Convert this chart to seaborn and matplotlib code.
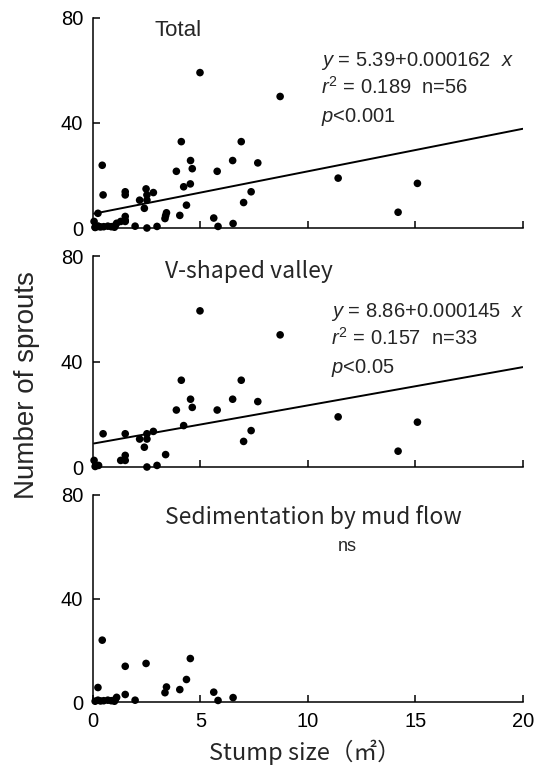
import numpy as np
import pandas as pd
import seaborn as sns
import matplotlib
matplotlib.use("Agg")
import matplotlib.pyplot as plt

# ---------------- data ----------------
# V-shaped valley stumps: stump size (m2) and number of sprouts
valley_x = [4.98, 8.71, 0.47, 1.50, 2.17, 2.51, 2.51, 2.39, 2.81, 3.38, 3.88,
            4.11, 4.22, 4.54, 4.62, 5.78, 6.50, 6.90, 7.01, 7.36, 7.67, 11.41,
            14.20, 15.10, 1.29, 1.50, 1.50, 2.51, 2.98, 0.05, 0.15, 0.26, 0.10]
valley_y = [59.2, 50.1, 12.6, 12.6, 10.6, 12.6, 10.6, 7.5, 13.5, 4.7, 21.6,
            32.9, 15.7, 25.7, 22.6, 21.6, 25.7, 32.9, 9.7, 13.8, 24.8, 19.0,
            6.0, 17.0, 2.5, 2.5, 4.4, 0.0, 0.6, 2.5, 0.6, 0.6, 0.2]
# Sedimentation by mud flow stumps
mud_x = [0.43, 0.23, 0.23, 0.69, 1.04, 1.10, 1.50, 1.50, 1.96, 2.47, 3.35,
         3.42, 4.04, 4.35, 4.53, 5.62, 5.82, 6.52, 0.10, 0.35, 0.50, 0.85, 1.00]
mud_y = [23.9, 5.6, 0.7, 0.7, 1.0, 1.8, 13.8, 2.9, 0.7, 14.9, 3.6,
         5.8, 4.8, 8.7, 16.8, 3.8, 0.6, 1.7, 0.3, 0.4, 0.5, 0.5, 0.3]

panel_titles = ["Total", "V-shaped valley", "Sedimentation by mud flow"]
# regression coefficients (x in cm2 in the equations)
total_coef = (5.39, 0.000162)
valley_coef = (8.86, 0.000145)
total_stats = [r"$\mathit{y}$ = 5.39+0.000162  $\mathit{x}$",
               r"$\mathit{r}^{\mathrm{2}}$ = 0.189  n=56",
               r"$\mathit{p}$<0.001"]
valley_stats = [r"$\mathit{y}$ = 8.86+0.000145  $\mathit{x}$",
                r"$\mathit{r}^{\mathrm{2}}$ = 0.157  n=33",
                r"$\mathit{p}$<0.05"]
mud_stats = "ns"
x_ticks = [0, 5, 10, 15, 20]
y_ticks = [0, 40, 80]
x_label = "Stump size（㎡）"
y_label = "Number of sprouts"

df_v = pd.DataFrame({"x": valley_x, "y": valley_y, "site": "valley"})
df_m = pd.DataFrame({"x": mud_x, "y": mud_y, "site": "mud"})
df_t = pd.concat([df_v, df_m], ignore_index=True)

# ---------------- style ----------------
sns.set_theme(style="ticks")
plt.rcParams["font.family"] = ["Liberation Sans", "DejaVu Sans"]
plt.rcParams["mathtext.fontset"] = "custom"
plt.rcParams["mathtext.it"] = "Liberation Sans:italic"
plt.rcParams["mathtext.rm"] = "Liberation Sans"
plt.rcParams["mathtext.default"] = "regular"
CJK = ["Noto Sans CJK JP", "DejaVu Sans"]

W, H = 545, 773
fig = plt.figure(figsize=(W / 100, H / 100), dpi=100)


def rect(top_px, bot_px):
    return [93 / W, 1 - bot_px / H, (522.7 - 93) / W, (bot_px - top_px) / H]


axes = [fig.add_axes(rect(18, 228)),
        fig.add_axes(rect(256, 467)),
        fig.add_axes(rect(495, 702))]

dfs = [df_t, df_v, df_m]
coefs = [total_coef, valley_coef, None]

for i, (ax, d, cf) in enumerate(zip(axes, dfs, coefs)):
    sns.scatterplot(data=d, x="x", y="y", ax=ax, color="black", s=30,
                    edgecolor="none", linewidth=0, clip_on=False, zorder=3)
    if cf is not None:
        xl = np.array([d["x"].min(), 20.0])
        yl = cf[0] + cf[1] * 1e4 * xl
        sns.lineplot(x=xl, y=yl, ax=ax, color="black", linewidth=1.4)
    ax.set_xlim(0, 20)
    ax.set_ylim(0, 80)
    ax.set_xticks(x_ticks)
    ax.set_yticks(y_ticks)
    ax.set_xlabel("")
    ax.set_ylabel("")
    for s in ["top", "right"]:
        ax.spines[s].set_visible(False)
    for s in ["left", "bottom"]:
        ax.spines[s].set_color("black")
        ax.spines[s].set_linewidth(1.1)
    ax.tick_params(direction="in", length=5, width=1.1, colors="black",
                   labelsize=14.5, pad=7)
    if i < 2:
        ax.tick_params(axis="x", labelbottom=False)
    ax.patch.set_alpha(0)


def ftext(xp, yp, s, **kw):
    fig.text(xp / W, 1 - yp / H, s, **kw)


# panel titles
ftext(178, 36, panel_titles[0], fontsize=16, ha="center", va="baseline")
ftext(249, 278, panel_titles[1], fontsize=16.5, ha="center", va="baseline",
      family=CJK)
ftext(313, 524, panel_titles[2], fontsize=16.5, ha="center", va="baseline",
      family=CJK)

# statistics
for k, s in enumerate(total_stats):
    ftext(321, 66 + 28 * k, s, fontsize=14.5, ha="left", va="baseline")
for k, s in enumerate(valley_stats):
    ftext(331, 317 + 28 * k, s, fontsize=14.5, ha="left", va="baseline")
ftext(347, 551, mud_stats, fontsize=13, ha="center", va="baseline")

# axis labels
ftext(27, 385, y_label, fontsize=20, rotation=90, ha="center", va="center")
ftext(305, 752, x_label, fontsize=17, ha="center", va="center", family=CJK)

fig.savefig("out.png", dpi=100)
